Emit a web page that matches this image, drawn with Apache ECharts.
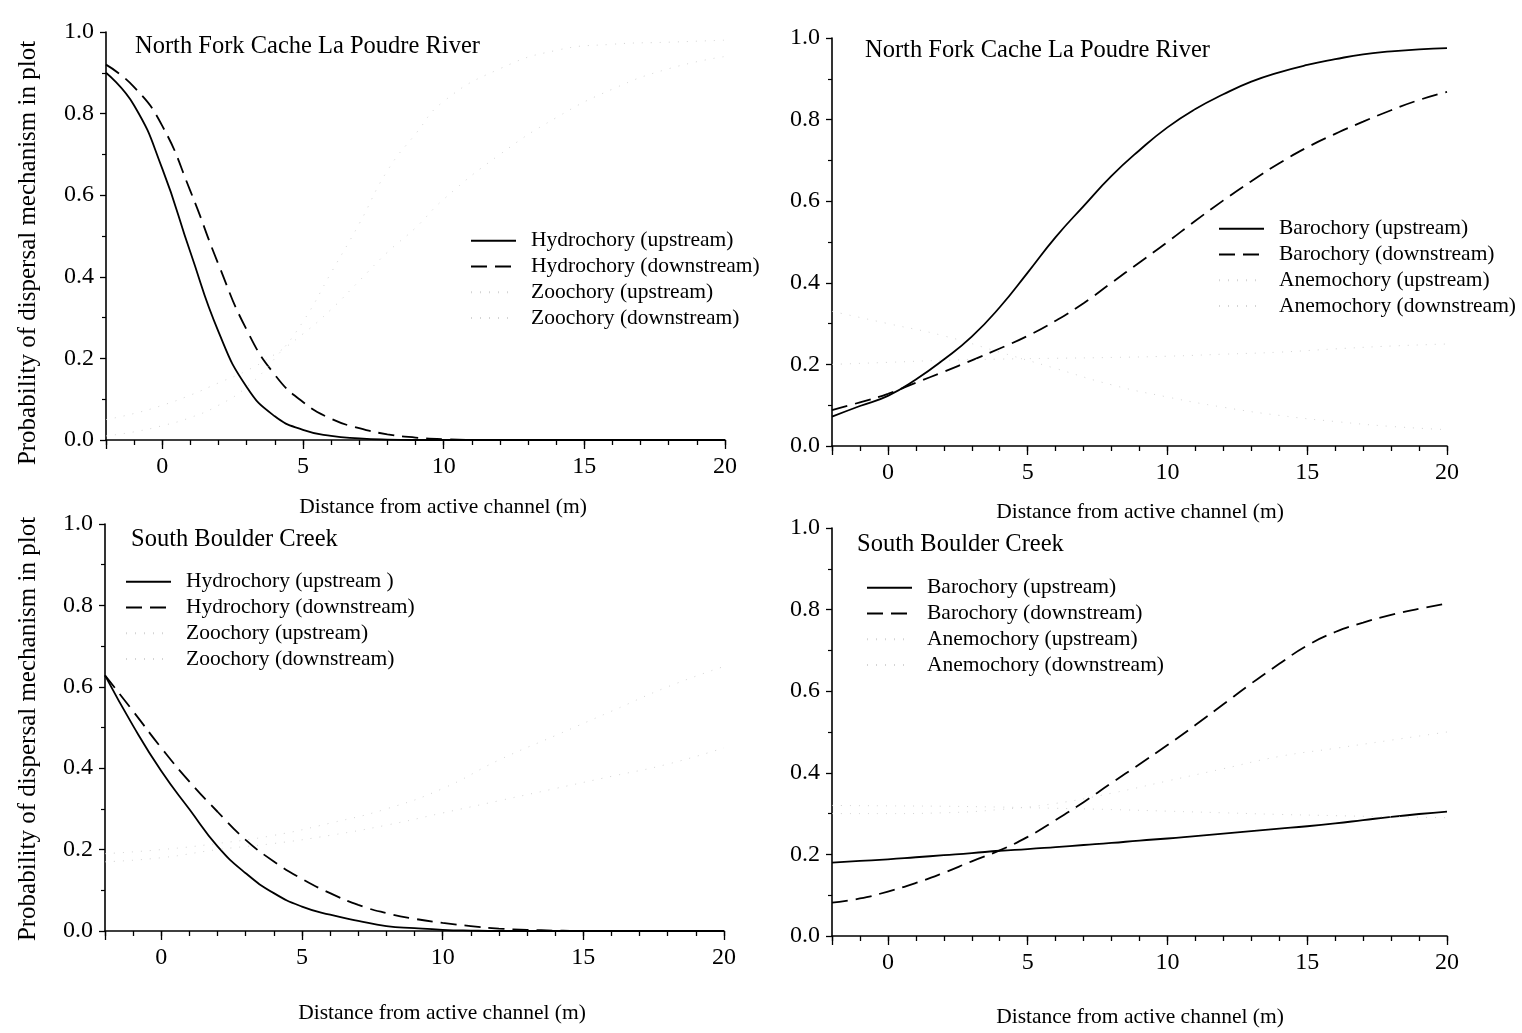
<!DOCTYPE html>
<html><head><meta charset="utf-8">
<script src="https://cdn.jsdelivr.net/npm/echarts@6/dist/echarts.min.js"></script>
<style>html,body{margin:0;padding:0;background:#fff}#c{width:1522px;height:1033px}</style>
</head><body><div id="c"></div><script>
// ---------- DATA ----------
const xTicks = [0, 5, 10, 15, 20];
const yTicks = [0.0, 0.2, 0.4, 0.6, 0.8, 1.0];

// Panel 1: North Fork Cache La Poudre River (hydrochory / zoochory)
const xNF1 = [-2,-1,0,1,2,3,4,5,6,7,8,9,10,12,14,16,18,20];
const nfHydroUp   = [0.90,0.82,0.665,0.46,0.265,0.13,0.058,0.025,0.01,0.004,0.001,0,0,0,0,0,0,0];
const nfHydroDown = [0.92,0.865,0.77,0.61,0.43,0.27,0.16,0.093,0.052,0.029,0.014,0.006,0.002,0,0,0,0,0];
const nfZooUp     = [0.01,0.02,0.035,0.055,0.085,0.13,0.2,0.29,0.41,0.53,0.66,0.75,0.83,0.91,0.955,0.97,0.975,0.98];
const nfZooDown   = [0.05,0.065,0.085,0.11,0.14,0.17,0.21,0.26,0.32,0.39,0.46,0.52,0.59,0.7,0.79,0.86,0.91,0.94];

// Panel 2: North Fork Cache La Poudre River (barochory / anemochory)
const xFull = [-2,-1,0,1,2,3,4,5,6,7,8,9,10,11,12,13,14,15,16,17,18,19,20];
const nfBaroUp   = [0.072,0.098,0.123,0.163,0.212,0.268,0.34,0.425,0.512,0.588,0.662,0.725,0.781,0.826,0.862,0.893,0.916,0.934,0.948,0.96,0.967,0.972,0.975];
const nfBaroDown = [0.088,0.107,0.128,0.155,0.182,0.21,0.239,0.27,0.307,0.35,0.40,0.45,0.50,0.552,0.602,0.649,0.693,0.732,0.765,0.795,0.823,0.848,0.868];
const xCoarse = [-2,0,2,4,6,8,10,12,14,16,18,20];
const nfAnemUp   = [0.20,0.205,0.21,0.213,0.215,0.217,0.22,0.225,0.23,0.238,0.245,0.25];
const nfAnemDown = [0.33,0.30,0.27,0.23,0.19,0.15,0.12,0.095,0.075,0.06,0.048,0.04];

// Panel 3: South Boulder Creek (hydrochory / zoochory)
const sbHydroUp   = [0.628,0.504,0.393,0.299,0.208,0.142,0.093,0.06,0.04,0.025,0.012,0.007,0.003,0.001,0,0,0,0,0,0,0,0,0];
const sbHydroDown = [0.628,0.54,0.45,0.367,0.293,0.224,0.171,0.128,0.093,0.064,0.044,0.03,0.02,0.012,0.006,0.003,0.001,0,0,0,0,0,0];
const sbZooUp     = [0.17,0.18,0.2,0.215,0.235,0.26,0.29,0.32,0.35,0.38,0.41,0.45];
const sbZooDown   = [0.19,0.2,0.215,0.235,0.265,0.3,0.35,0.42,0.48,0.54,0.6,0.65];

// Panel 4: South Boulder Creek (barochory / anemochory)
const sbBaroUp   = [0.18,0.184,0.188,0.193,0.198,0.203,0.209,0.213,0.218,0.223,0.228,0.234,0.239,0.245,0.251,0.257,0.263,0.269,0.276,0.284,0.292,0.299,0.305];
const sbBaroDown = [0.082,0.092,0.109,0.13,0.155,0.183,0.21,0.243,0.284,0.328,0.375,0.421,0.468,0.517,0.568,0.619,0.667,0.712,0.745,0.768,0.787,0.802,0.815];
const sbAnemUp   = [0.32,0.319,0.318,0.316,0.313,0.31,0.306,0.302,0.298,0.295,0.292,0.29];
const sbAnemDown = [0.30,0.30,0.302,0.31,0.325,0.35,0.38,0.41,0.44,0.46,0.48,0.50];

const titleNF = 'North Fork Cache La Poudre River';
const titleSB = 'South Boulder Creek';
const xName = 'Distance from active channel (m)';
const yName = 'Probability of dispersal mechanism in plot';
const legendP1 = ['Hydrochory (upstream)','Hydrochory (downstream)','Zoochory (upstream)','Zoochory (downstream)'];
const legendP2 = ['Barochory (upstream)','Barochory (downstream)','Anemochory (upstream)','Anemochory (downstream)'];
const legendP3 = ['Hydrochory (upstream )','Hydrochory (downstream)','Zoochory (upstream)','Zoochory (downstream)'];
const legendP4 = legendP2;

// ---------- CHART ----------
const FONT = '"Liberation Serif","Times New Roman",serif';
const pairs = (xs, ys) => xs.map((x, i) => [x, ys[i]]);

const grids = [
  {left:106, top:32, width:619, height:408},
  {left:832, top:38, width:615, height:408},
  {left:105, top:524, width:619, height:407},
  {left:832, top:528, width:615, height:408}
];
const axisLineStyle = {color:'#000', width:1.6};

const xAxes = [], yAxes = [];
grids.forEach((g, i) => {
  xAxes.push({
    gridIndex:i, type:'value', min:-2, max:20, interval:1, position:'bottom',
    axisLine:{onZero:false, lineStyle:axisLineStyle},
    axisTick:{length:5, lineStyle:{color:'#000', width:1.3}},
    axisLabel:{margin:15, color:'#000', fontFamily:FONT, fontSize:24,
      formatter: v => (xTicks.indexOf(v) >= 0 ? String(v) : '')},
    splitLine:{show:false}
  });
  xAxes.push({
    gridIndex:i, type:'value', min:-2, max:20, splitNumber:4, position:'bottom',
    axisLine:{show:false, onZero:false},
    axisTick:{length:9, lineStyle:{color:'#000', width:1.3}},
    axisLabel:{show:false}, splitLine:{show:false}
  });
  yAxes.push({
    gridIndex:i, type:'value', min:0, max:1, interval:0.2,
    axisLine:{onZero:false, lineStyle:axisLineStyle},
    axisTick:{length:6, lineStyle:{color:'#000', width:1.3}},
    minorTick:{show:true, splitNumber:2, length:4, lineStyle:{color:'#000', width:1.2}},
    axisLabel:{margin:12, color:'#000', fontFamily:FONT, fontSize:24,
      formatter: v => (yTicks.some(t => Math.abs(t - v) < 1e-6) ? v.toFixed(1) : '')},
    splitLine:{show:false}
  });
});

const solid = {color:'#000', width:1.8, type:'solid'};
const dashed = {color:'#000', width:1.8, type:[16,8]};
const faint = {color:'#d4d4d4', width:1, type:[1,8]};

function mk(name, panel, data, ls) {
  return {
    name, type:'line', xAxisIndex:panel*2, yAxisIndex:panel, data,
    symbol:'none', smooth:0.5,
    lineStyle:ls, itemStyle:{color:ls.color}, silent:true
  };
}
const series = [
  mk(legendP1[0], 0, pairs(xNF1, nfHydroUp), solid),
  mk(legendP1[1], 0, pairs(xNF1, nfHydroDown), dashed),
  mk(legendP1[2], 0, pairs(xNF1, nfZooUp), faint),
  mk(legendP1[3], 0, pairs(xNF1, nfZooDown), faint),
  mk(legendP2[0], 1, pairs(xFull, nfBaroUp), solid),
  mk(legendP2[1], 1, pairs(xFull, nfBaroDown), dashed),
  mk(legendP2[2], 1, pairs(xCoarse, nfAnemUp), faint),
  mk(legendP2[3], 1, pairs(xCoarse, nfAnemDown), faint),
  mk(legendP3[0], 2, pairs(xFull, sbHydroUp), solid),
  mk(legendP3[1], 2, pairs(xFull, sbHydroDown), dashed),
  mk(legendP3[2], 2, pairs(xCoarse, sbZooUp), faint),
  mk(legendP3[3], 2, pairs(xCoarse, sbZooDown), faint),
  mk(legendP4[0], 3, pairs(xFull, sbBaroUp), solid),
  mk(legendP4[1], 3, pairs(xFull, sbBaroDown), dashed),
  mk(legendP4[2], 3, pairs(xCoarse, sbAnemUp), faint),
  mk(legendP4[3], 3, pairs(xCoarse, sbAnemDown), faint)
];

function lg(names, left, top) {
  return {
    data:names, orient:'vertical', left, top, padding:0, itemGap:0,
    itemWidth:45, itemHeight:12, selectedMode:false,
    itemStyle:{opacity:0, borderWidth:0},
    textStyle:{color:'#000', fontFamily:FONT, fontSize:21.5, lineHeight:25.7, padding:[0,0,0,10]}
  };
}
const legends = [
  lg(legendP1, 470, 228),
  lg(legendP2, 1218, 216),
  lg(legendP3, 125, 569),
  lg(legendP4, 866, 575)
];

function txt(text, x, y, size, align, rot) {
  return {type:'text', x, y, rotation:rot || 0, silent:true,
    style:{text, fill:'#000', font:size + 'px ' + FONT, textAlign:align || 'left', textVerticalAlign:'middle'}};
}
const graphics = [
  txt(titleNF, 135, 47, 24.5),
  txt(titleNF, 865, 51, 24.5),
  txt(titleSB, 131, 540, 24.5),
  txt(titleSB, 857, 545, 24.5),
  txt(xName, 443, 507, 21.5, 'center'),
  txt(xName, 1140, 512, 21.5, 'center'),
  txt(xName, 442, 1013, 21.5, 'center'),
  txt(xName, 1140, 1017, 21.5, 'center'),
  txt(yName, 28, 253, 25, 'center', Math.PI/2),
  txt(yName, 28, 729, 25, 'center', Math.PI/2)
];

const chart = echarts.init(document.getElementById('c'), null, {renderer:'canvas'});
chart.setOption({
  backgroundColor:'#fff', animation:false,
  grid:grids, xAxis:xAxes, yAxis:yAxes, series, legend:legends, graphic:graphics
});
</script></body></html>
